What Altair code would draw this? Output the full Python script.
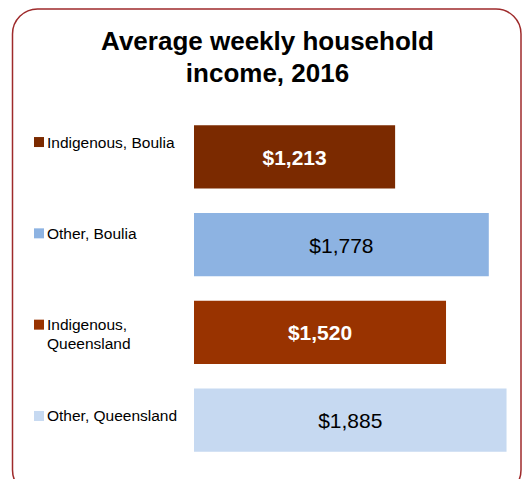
import altair as alt
import pandas as pd

# ---- data ----
categories = ["Indigenous, Boulia", "Other, Boulia", "Indigenous, Queensland", "Other, Queensland"]
legend_labels = ["Indigenous, Boulia", "Other, Boulia", "Indigenous,\nQueensland", "Other, Queensland"]
values = [1213, 1778, 1520, 1885]
colors = ["#7B2A00", "#8DB3E2", "#993300", "#C6D9F1"]
title_lines = ["Average weekly household", "income, 2016"]

df = pd.DataFrame({"category": categories, "label": legend_labels, "value": values})

FONT = "Liberation Sans"
W, H = 320, 351

x_scale = alt.Scale(domain=[0, 1930], nice=False)
band = alt.Scale(domain=categories, paddingInner=0.28, paddingOuter=0.14)
rows = alt.Scale(type="point", domain=categories, padding=0.422)
color = alt.Color("category:N", scale=alt.Scale(domain=categories, range=colors), legend=None)

base = alt.Chart(df)

# rounded frame around the whole graphic
box = alt.Chart(alt.Data(values=[{}])).mark_rect(
    filled=False, stroke="#9E2A2B", strokeWidth=1.5, cornerRadius=25
).encode(x=alt.value(-181.5), x2=alt.value(327), y=alt.value(-104), y2=alt.value(382))

bars = base.mark_bar().encode(
    x=alt.X("value:Q", scale=x_scale, axis=None),
    y=alt.Y("category:N", scale=band, axis=None),
    color=color,
)

lab_common = dict(
    x=alt.X("mid:Q", scale=x_scale, axis=None),
    y=alt.Y("category:N", scale=band, axis=None),
    text=alt.Text("value:Q", format="$,.0f"),
)

lab_ind = base.transform_calculate(mid="datum.value / 2").transform_filter(
    "indexof(datum.category, 'Indigenous') == 0"
).mark_text(font=FONT, fontSize=21, fontWeight="bold", color="white", baseline="middle", dy=2).encode(**lab_common)

lab_oth = base.transform_calculate(mid="datum.value / 2").transform_filter(
    "indexof(datum.category, 'Other') == 0"
).mark_text(font=FONT, fontSize=21, color="black", baseline="middle", dy=2).encode(**lab_common)

# legend drawn as marks (symbol aligned with first label line)
squares = base.mark_square(size=100, opacity=1, yOffset=-9.5).encode(
    x=alt.value(-155),
    y=alt.Y("category:N", scale=rows, axis=None),
    color=color,
)

legend_text = base.mark_text(
    font=FONT, fontSize=15.5, align="left", baseline="top", lineBreak="\n",
    lineHeight=19, color="black", yOffset=-16
).encode(
    x=alt.value(-147),
    y=alt.Y("category:N", scale=rows, axis=None),
    text="label:N",
)

chart = alt.layer(box, bars, lab_ind, lab_oth, squares, legend_text).resolve_scale(
    y="independent"
).properties(
    width=W,
    height=H,
    title=alt.TitleParams(
        text=title_lines, font=FONT, fontSize=26, fontWeight="bold", color="black",
        anchor="middle", frame="group", dx=-86.5, dy=105, baseline="bottom", offset=0, lineHeight=32,
    ),
    padding={"left": 186, "top": 105, "right": 8, "bottom": 15},
    autosize=alt.AutoSizeParams(type="none"),
).configure_view(stroke=None)

chart.save("out.html", embed_options={"renderer": "svg", "actions": False})
